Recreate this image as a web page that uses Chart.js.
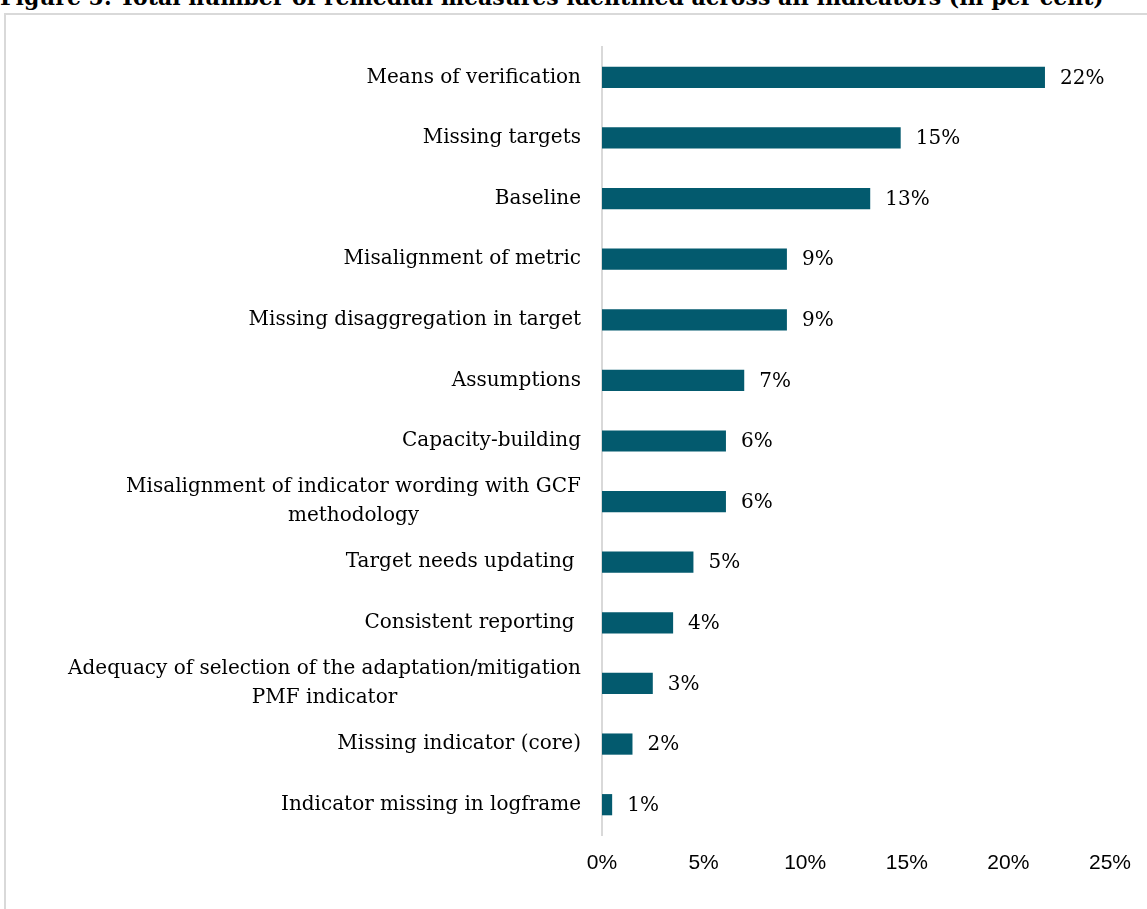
<!DOCTYPE html>
<html>
<head>
<meta charset="utf-8">
<script src="https://cdn.jsdelivr.net/npm/chart.js@4/dist/chart.umd.min.js"></script>
<style>
  html, body { margin: 0; padding: 0; background: #fff; overflow: hidden; }
  #titulo {
    position: absolute; left: 0; top: -16px; white-space: nowrap;
    font: bold 22px "DejaVu Serif", serif; color: #000;
  }
  #marco {
    position: absolute; left: 4px; top: 13px; width: 1143px; height: 896px;
    border-left: 2px solid #d9d9d9; border-top: 2px solid #d9d9d9; box-sizing: border-box;
  }
  #lienzo { position: absolute; left: 0; top: 0; }
</style>
</head>
<body>
<div id="titulo">Figure 5. Total number of remedial measures identified across all indicators (in per cent)</div>
<div id="marco"></div>
<canvas id="lienzo" width="1147" height="909"></canvas>
<script>
// categorías (de arriba hacia abajo)
const categorias = [
    'Means of verification',
    'Missing targets',
    'Baseline',
    'Misalignment of metric',
    'Missing disaggregation in target',
    'Assumptions',
    'Capacity-building',
    ['Misalignment of indicator wording with GCF', 'methodology'],
    'Target needs updating ',
    'Consistent reporting ',
    ['Adequacy of selection of the adaptation/mitigation', 'PMF indicator'],
    'Missing indicator (core)',
    'Indicator missing in logframe'
];

// valores estimados (por ciento)
const valores = [21.8, 14.7, 13.2, 9.1, 9.1, 7.0, 6.1, 6.1, 4.5, 3.5, 2.5, 1.5, 0.5];

// etiquetas que se muestran junto a cada barra
const etiquetas = ['22%', '15%', '13%', '9%', '9%', '7%', '6%', '6%', '5%', '4%', '3%', '2%', '1%'];

// marcas del eje x
const marcasX = [0, 5, 10, 15, 20, 25];

const fuenteSerif = '"DejaVu Serif", serif';

// Etiquetas de valor al final de cada barra y nombres de categoría
// (las de dos líneas van centradas entre sí, como en el original)
const pluginEtiquetas = {
    id: 'etiquetasValor',
    afterDatasetsDraw(chart) {
        const ctx = chart.ctx;
        const meta = chart.getDatasetMeta(0);
        const escalaY = chart.scales.y;
        ctx.save();
        ctx.font = '20px ' + fuenteSerif;
        ctx.fillStyle = '#000';
        ctx.textBaseline = 'middle';

        ctx.textAlign = 'left';
        meta.data.forEach((barra, i) => {
            ctx.fillText(etiquetas[i], barra.x + 15, barra.y + 1);
        });

        const derecha = chart.chartArea.left - 21;
        const interlinea = 29;
        ctx.textAlign = 'center';
        categorias.forEach((cat, i) => {
            const lineas = Array.isArray(cat) ? cat : [cat];
            const ancho = Math.max(...lineas.map(l => ctx.measureText(l).width));
            const centroX = derecha - ancho / 2;
            const yCentro = escalaY.getPixelForTick(i);
            const y0 = yCentro - (lineas.length - 1) * interlinea / 2;
            lineas.forEach((l, j) => {
                ctx.fillText(l, centroX, y0 + j * interlinea);
            });
        });
        ctx.restore();
    }
};

const ctx = document.getElementById('lienzo').getContext('2d');
new Chart(ctx, {
    type: 'bar',
    data: {
        labels: categorias,
        datasets: [{
            data: valores,
            backgroundColor: '#035a6e',
            borderWidth: 0,
            barPercentage: 0.35,
            categoryPercentage: 1
        }]
    },
    options: {
        indexAxis: 'y',
        responsive: false,
        animation: false,
        events: [],
        layout: { padding: { left: 0, right: 37, top: 47, bottom: 22 } },
        plugins: {
            legend: { display: false },
            tooltip: { enabled: false }
        },
        scales: {
            x: {
                min: 0,
                max: 25,
                afterBuildTicks(scale) {
                    scale.ticks = marcasX.map(v => ({ value: v }));
                },
                afterFit(scale) { scale.height = 52; },
                grid: { display: false, drawTicks: false },
                border: { display: false },
                ticks: {
                    padding: 16,
                    color: '#000',
                    font: { family: '"Liberation Sans", sans-serif', size: 21 },
                    callback: v => v + '%'
                }
            },
            y: {
                afterFit(scale) { scale.width = 602; },
                grid: { display: false, drawTicks: false },
                border: { display: true, color: '#d9d9d9', width: 2 },
                ticks: { display: false }
            }
        }
    },
    plugins: [pluginEtiquetas]
});
</script>
</body>
</html>
